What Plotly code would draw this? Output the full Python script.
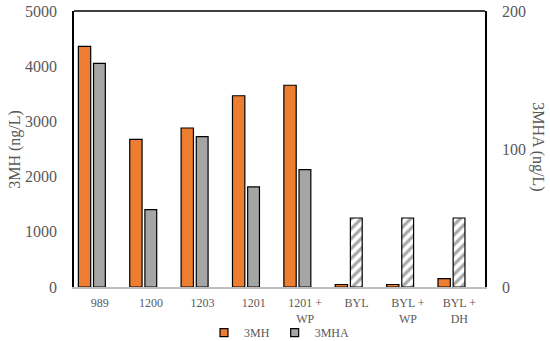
import plotly.graph_objects as go

categories = ["989", "1200", "1203", "1201", "1201 +<br>WP", "BYL", "BYL +<br>WP", "BYL +<br>DH"]
mh_values = [4360, 2675, 2880, 3465, 3655, 45, 45, 150]          # 3MH (ng/L), left axis
mha_values = [162, 56, 109, 72.5, 85, 50, 50, 50]                 # 3MHA (ng/L), right axis
mha_hatched = [False, False, False, False, False, True, True, True]
left_ticks = [0, 1000, 2000, 3000, 4000, 5000]
right_ticks = [0, 100, 200]

ORANGE = "#ED7D31"
GRAY = "#A5A5A5"
TXT = "#595959"
FONT = "Liberation Serif"

mha_solid = [v if not h else None for v, h in zip(mha_values, mha_hatched)]
mha_hatch = [v if h else None for v, h in zip(mha_values, mha_hatched)]

fig = go.Figure()
fig.add_trace(go.Bar(
    x=categories, y=mh_values, name="3MH", yaxis="y", showlegend=False,
    marker=dict(color=ORANGE, line=dict(color="black", width=1.2)),
    width=0.24, offset=-0.415,
))
fig.add_trace(go.Bar(
    x=categories, y=mha_solid, name="3MHA", yaxis="y2", showlegend=False,
    marker=dict(color=GRAY, line=dict(color="black", width=1.2)),
    width=0.23, offset=-0.12,
))
fig.add_trace(go.Bar(
    x=categories, y=mha_hatch, name="3MHA", yaxis="y2", showlegend=False,
    marker=dict(color="white", line=dict(color="black", width=1.2),
                pattern=dict(shape="/", fgcolor="#A8A8A8", bgcolor="white",
                             size=7, solidity=0.45, fillmode="replace")),
    width=0.23, offset=-0.12,
))
# legend proxies (small squares like the original legend)
for name, col in [("3MH", ORANGE), ("3MHA", GRAY)]:
    fig.add_trace(go.Scatter(
        x=[None], y=[None], mode="markers", name=name,
        marker=dict(symbol="square", size=8, color=col, line=dict(color="black", width=1.2)),
    ))

fig.update_layout(
    width=550, height=341,
    margin=dict(l=74, r=65, t=11, b=54, autoexpand=False),
    paper_bgcolor="white", plot_bgcolor="white",
    font=dict(family=FONT, color=TXT, size=12),
    showlegend=True,
    legend=dict(orientation="h", x=0.5, xanchor="center", y=-0.165, yanchor="middle",
                font=dict(size=12, color=TXT), itemwidth=30, tracegroupgap=0,
                bgcolor="rgba(0,0,0,0)"),
    xaxis=dict(type="category", showgrid=False, showline=True, linecolor="#BFBFBF",
               linewidth=1.5, ticks="", tickfont=dict(size=12, color=TXT),
               ticklabelstandoff=4, automargin=False),
    yaxis=dict(range=[0, 5000], tickvals=left_ticks, showgrid=False, zeroline=False,
               showline=True, linecolor="black", linewidth=1.5, ticks="",
               tickfont=dict(size=16, color=TXT), ticklabelstandoff=12, automargin=False),
    yaxis2=dict(range=[0, 200], tickvals=right_ticks, overlaying="y", side="right",
                showgrid=False, zeroline=False, showline=True, linecolor="black",
                linewidth=1.5, ticks="", tickfont=dict(size=16, color=TXT),
                ticklabelstandoff=12, automargin=False),
    shapes=[dict(type="line", xref="paper", yref="paper", x0=0, x1=1, y0=1, y1=1,
                 line=dict(color="black", width=1.5))],
    annotations=[
        dict(text="3MH (ng/L)", xref="paper", yref="paper", x=-0.144, y=0.5,
             textangle=-90, showarrow=False, font=dict(size=16, color=TXT),
             xanchor="center", yanchor="middle"),
        dict(text="3MHA (ng/L)", xref="paper", yref="paper", x=1.129, y=0.51,
             textangle=90, showarrow=False, font=dict(size=16, color=TXT),
             xanchor="center", yanchor="middle"),
    ],
)

fig.write_html("out.html", config={"displayModeBar": False},
               post_script="document.body.style.margin='0px';")
